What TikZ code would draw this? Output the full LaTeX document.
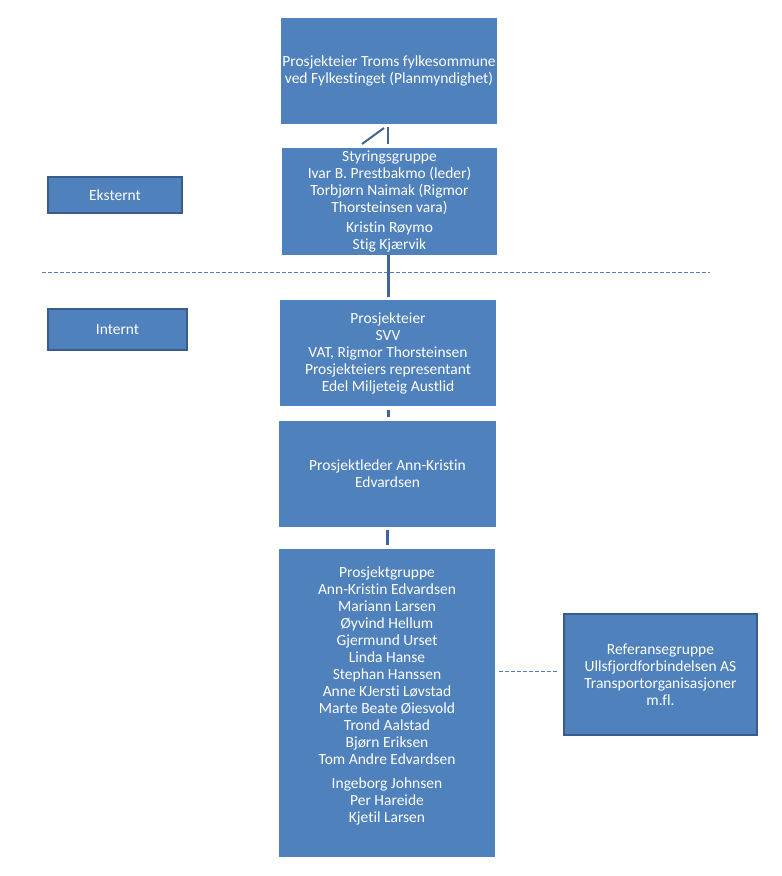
\documentclass[tikz,border=0pt]{standalone}
\usepackage{fontspec}
\setmainfont[Ligatures=NoCommon]{Carlito}
\definecolor{boxblue}{RGB}{79,129,189}
\definecolor{edgeblue}{RGB}{56,93,138}
\definecolor{linkblue}{RGB}{64,101,150}
\tikzset{
  box/.style={fill=boxblue, text=white, align=center, inner sep=0pt,
    minimum width=216, minimum height=106, font=\fontsize{15.5}{17}\selectfont},
  tag/.style={box, draw=edgeblue, line width=2pt},
  link/.style={draw=linkblue, line width=3pt},
  skille/.style={draw=boxblue, line width=1pt, dash pattern=on 4pt off 2pt}
}
\begin{document}
\begin{tikzpicture}[x=1pt, y=-1pt]
  \useasboundingbox (0,0) rectangle (782,876);
  \node[box] (eier) at (389,71) {Prosjekteier Troms fylkesommune\\ved Fylkestinget (Planmyndighet)};
  \node[box, minimum width=215, minimum height=107] (styr) at (389.5,201.5) {Styringsgruppe\\Ivar B. Prestbakmo (leder)\\Torbjørn Naimak (Rigmor\\Thorsteinsen vara)\\[3pt]Kristin Røymo\\Stig Kjærvik};
  \node[box] (svv) at (388,353) {Prosjekteier\\SVV\\VAT, Rigmor Thorsteinsen\\Prosjekteiers representant\\Edel Miljeteig Austlid};
  \node[box, minimum width=217] (leder) at (387.5,474) {Prosjektleder Ann-Kristin\\Edvardsen};
  \node[box, minimum height=308] (gruppe) at (387,703) {Prosjektgruppe\\Ann-Kristin Edvardsen\\Mariann Larsen\\Øyvind Hellum\\Gjermund Urset\\Linda Hanse\\Stephan Hanssen\\Anne KJersti Løvstad\\Marte Beate Øiesvold\\Trond Aalstad\\Bjørn Eriksen\\Tom Andre Edvardsen\\[7pt]Ingeborg Johnsen\\Per Hareide\\Kjetil Larsen\\[-1pt]};
  \node[tag, minimum width=193, minimum height=121] (ref) at (660.5,674.5) {Referansegruppe\\Ullsfjordforbindelsen AS\\Transportorganisasjoner\\m.fl.};
  \node[tag, minimum width=134, minimum height=36] (ekst) at (115,195) {Eksternt};
  \node[tag, minimum width=139, minimum height=41] (int) at (117.5,329.5) {Internt};
  \coordinate (knekkA) at (362,144);
  \coordinate (knekkB) at (384,128);
  \coordinate (knekkC) at (388,127);
  \coordinate (knekkD) at (388,144);
  \draw[draw=linkblue, line width=2pt] (knekkA) -- (knekkB);
  \draw[draw=linkblue, line width=2pt] (knekkC) -- (knekkD);
  \coordinate (skilleV) at (42,272);
  \coordinate (skilleH) at (710,272);
  \draw[skille] (skilleV) -- (skilleH);
  \draw[link, shorten >=3pt] (388,0 |- styr.south) -- (388,0 |- svv.north);
  \draw[link, shorten <=4pt, shorten >=4pt] (388,0 |- svv.south) -- (388,0 |- leder.north);
  \draw[link, shorten <=3pt, shorten >=4pt] (387,0 |- leder.south) -- (387,0 |- gruppe.north);
  \draw[skille, shorten <=4pt, shorten >=5pt] (gruppe.east |- 0,671) -- (ref.west |- 0,671);
\end{tikzpicture}
\end{document}
